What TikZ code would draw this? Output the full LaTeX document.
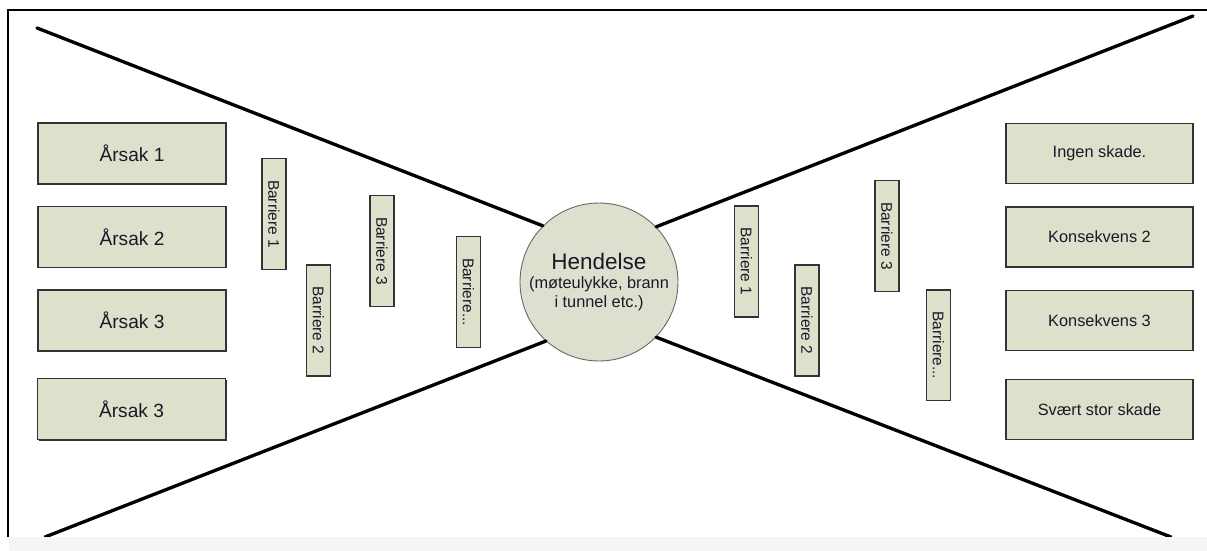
\documentclass[tikz,border=0pt]{standalone}
\usepackage{fontspec}
\setmainfont{Liberation Sans}
\usepackage{xcolor}
\usepackage{tikz}
\usetikzlibrary{positioning}
\usetikzlibrary{shadows}

\definecolor{boxfill}{RGB}{221,224,203}
\definecolor{eventfill}{RGB}{220,224,206}
\definecolor{textdark}{RGB}{25,25,40}
\definecolor{stripgrey}{RGB}{245,245,245}

\begin{document}
\begin{tikzpicture}[x=0.02cm,y=-0.02cm,
        cause/.style={draw=black!80,line width=0.8pt,fill=boxfill,text=textdark,
            minimum width=3.76cm,minimum height=1.22cm,inner sep=0pt,
            font=\fontsize{10.9}{13}\selectfont},
        effect/.style={cause,minimum width=3.74cm,minimum height=1.2cm,
            font=\fontsize{9.3}{11}\selectfont},
        barrier/.style={draw=black!80,line width=0.8pt,fill=boxfill,text=textdark,
            minimum width=2.22cm,minimum height=0.48cm,inner sep=0pt,rotate=-90,
            font=\fontsize{8.8}{10}\selectfont},
        event/.style={circle,draw=black!60,line width=0.5pt,fill=eventfill,
            minimum size=3.16cm,inner sep=0pt,align=center,text=textdark},
        tie/.style={line width=1.9pt,line cap=round}]
        \useasboundingbox (0,0) rectangle (1207,551);
        % frame
        \draw[line width=1.7pt] (8,537) -- (8,10) -- (1207,10);
        % event in the middle
        \node[event] (ev) at (599,282) {{\fontsize{12.8}{15}\selectfont Hendelse}\\[-1pt]
            {\fontsize{9.3}{11}\selectfont (møteulykke, brann}\\[-1pt]
            {\fontsize{9.3}{11}\selectfont i tunnel etc.)}};
        % bow tie
        \coordinate (tl) at (37,28);
        \coordinate (bl) at (45,537);
        \coordinate (tr) at (1193,16);
        \coordinate (br) at (1171,537);
        \draw[tie] (tl) -- (ev.135);
        \draw[tie] (bl) -- (ev.228);
        \draw[tie] (tr) -- (ev.44);
        \draw[tie] (br) -- (ev.316);
        \fill[stripgrey] (9,537) rectangle (1207,551);
        % causes
        \node[cause] (c1) at (132,153.5) {Årsak 1};
        \node[cause] (c2) at (132,237) {Årsak 2};
        \node[cause] (c3) at (132,320.5) {Årsak 3};
        \node[cause,drop shadow={shadow xshift=0.8pt,shadow yshift=-0.8pt,
            fill=black!80,opacity=1}] (c4) at (131.5,409) {Årsak 3};
        % barriers before
        \node[barrier] (lb1) at (274,214) {Barriere 1};
        \node[barrier] (lb2) at (318.3,320.5) {Barriere 2};
        \node[barrier] (lb3) at (382,251) {Barriere 3};
        \node[barrier] (lb4) at (468.5,292) {Barriere...};
        % barriers after
        \node[barrier] (rb1) at (746.3,261.5) {Barriere 1};
        \node[barrier] (rb2) at (807,320.5) {Barriere 2};
        \node[barrier] (rb3) at (887,236) {Barriere 3};
        \node[barrier] (rb4) at (938.3,345.3) {Barriere...};
        % consequences
        \node[effect] (k1) at (1099.5,153.3) {Ingen skade.};
        \node[effect] (k2) at (1099.5,237) {Konsekvens 2};
        \node[effect] (k3) at (1099.5,320.5) {Konsekvens 3};
        \node[effect] (k4) at (1099.5,409.5) {Svært stor skade};
\end{tikzpicture}
\end{document}
